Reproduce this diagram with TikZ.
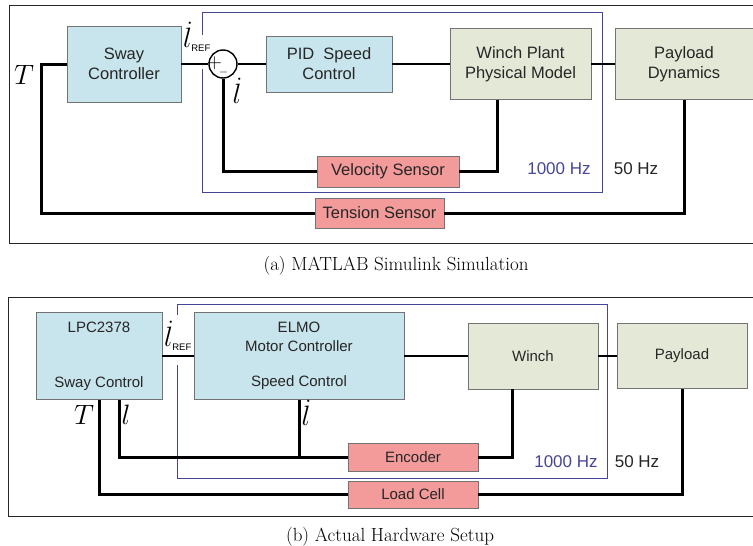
\RequirePackage{fix-cm}
\documentclass[tikz,border=0pt]{standalone}
\usepackage[no-math]{fontspec}
\setsansfont{Liberation Sans}

\definecolor{ctrlblue}{RGB}{200,228,236}
\definecolor{plantgreen}{RGB}{228,233,215}
\definecolor{sensorred}{RGB}{243,154,154}
\definecolor{loopblue}{RGB}{70,70,150}

\newcommand{\lrefsym}{\fontsize{28}{30}\selectfont$\dot{l}_{\hbox{\fontsize{9.5}{10}\selectfont\sffamily REF}}$}
\newcommand{\bigmath}[1]{\fontsize{28}{30}\selectfont$#1$}

\begin{document}
\begin{tikzpicture}[x=1pt,y=-1pt,
  box/.style={draw=black!55,line width=0.9pt,inner sep=0pt,align=center,
    text=black!85,font=\sffamily\fontsize{16.5}{20}\selectfont},
  ctrl/.style={box,fill=ctrlblue},
  plant/.style={box,fill=plantgreen},
  sensor/.style={box,fill=sensorred},
  fwd/.style={line width=2pt},
  fb/.style={line width=3pt},
  frame/.style={line width=1pt,black!85},
  loop/.style={loopblue,line width=1pt},
  rate/.style={font=\sffamily\fontsize{17}{20}\selectfont},
  caption/.style={font=\fontsize{19}{22}\selectfont}]

\useasboundingbox (0,0) rectangle (753,546);

% (a) simulation
\draw[frame] (9,5) rectangle (770,243);
\draw[loop] (202,35) -- (202,12) -- (602,12) -- (602,192) -- (202,192) -- (202,69);

\node[ctrl,minimum width=114,minimum height=76] (sway) at (124,64) {Sway\\Controller};
\node[draw,line width=1.4pt,circle,minimum size=28,inner sep=0pt] (sum) at (223,64) {};
\node[ctrl,minimum width=126,minimum height=56] (pid) at (329,64) {PID\ \ Speed\\Control};
\node[plant,minimum width=141,minimum height=71] (winch) at (520.5,64) {Winch Plant\\Physical Model};
\node[plant,minimum width=138,minimum height=71] (payload) at (684,64) {Payload\\Dynamics};
\node[sensor,minimum width=142,minimum height=31] (vsens) at (388,171.5) {Velocity Sensor};
\node[sensor,minimum width=129,minimum height=30] (tsens) at (379.5,213) {Tension Sensor};

\coordinate (vtap) at (497,99.5);
\coordinate (ttap) at (41,64);

\draw[fwd] (sway) -- (sum);
\draw[fwd] (sum) -- (pid);
\draw[fwd] (pid) -- (winch);
\draw[fwd] (winch) -- (payload);
\draw[fb] (vsens.east) -| (vtap);
\draw[fb] (vsens.west) -| (sum.south);
\draw[fb] (tsens.east) -| (payload.south);
\draw[fb] (tsens.west) -| (ttap) -- (sway.west);

\node (plus) at (214.5,63) {\fontsize{21}{21}\selectfont$+$};
\node (minus) at (223.5,72) {\fontsize{12}{12}\selectfont$-$};
\node (tlabel) at (24,75) {\bigmath{T}};
\node (lref) at (197,37) {\lrefsym};
\node (ldot) at (237,91) {\bigmath{\dot{l}}};
\node[rate,loopblue] (fast) at (559,169) {1000 Hz};
\node[rate,black!85] (slow) at (636,169) {50 Hz};
\node[caption] (capa) at (396,266) {(a) MATLAB Simulink Simulation};

% (b) hardware
\draw[frame] (8,297) rectangle (770,516);
\draw[loop] (177,315) -- (177,304) -- (607,304) -- (607,478) -- (177,478) -- (177,365);

\node[ctrl,minimum width=126,minimum height=87,font=\sffamily\fontsize{15}{18}\selectfont] (lpc) at (99,356) {LPC2378\\[37pt]Sway Control};
\node[ctrl,minimum width=210,minimum height=87,font=\sffamily\fontsize{15}{19}\selectfont] (elmo) at (299,356) {ELMO\\Motor Controller\\[16pt]Speed Control};
\node[plant,minimum width=130,minimum height=66,font=\sffamily\fontsize{15}{18}\selectfont] (wnch) at (533,356) {Winch};
\node[plant,minimum width=130,minimum height=65,font=\sffamily\fontsize{15}{18}\selectfont] (load) at (682,356) {Payload};
\node[sensor,minimum width=130,minimum height=28,font=\sffamily\fontsize{15}{18}\selectfont] (enc) at (413,457) {Encoder};
\node[sensor,minimum width=130,minimum height=27,font=\sffamily\fontsize{15}{18}\selectfont] (cell) at (413,494.5) {Load Cell};

\coordinate (etap) at (512,389);
\coordinate (ltap) at (119,399.5);

\draw[fwd] (lpc) -- (elmo);
\draw[fwd] (elmo) -- (wnch);
\draw[fwd] (wnch) -- (load);
\draw[fb] (enc.east) -| (etap);
\draw[fb] (enc.west) -| (ltap);
\draw[fb] (elmo.south) |- (enc.west);
\draw[fb] (cell.east) -| (load.south);
\draw[fb] (cell.west) -| (lpc.south);

\node (tlabel2) at (84,415) {\bigmath{T}};
\node (llabel) at (126,415) {\bigmath{l}};
\node (lref2) at (178,336) {\lrefsym};
\node (ldot2) at (306,413) {\bigmath{\dot{l}}};
\node[rate,loopblue] (fast2) at (566,462) {1000 Hz};
\node[rate,black!85] (slow2) at (637,462) {50 Hz};
\node[caption] (capb) at (390,537) {(b) Actual Hardware Setup};

\end{tikzpicture}
\end{document}
